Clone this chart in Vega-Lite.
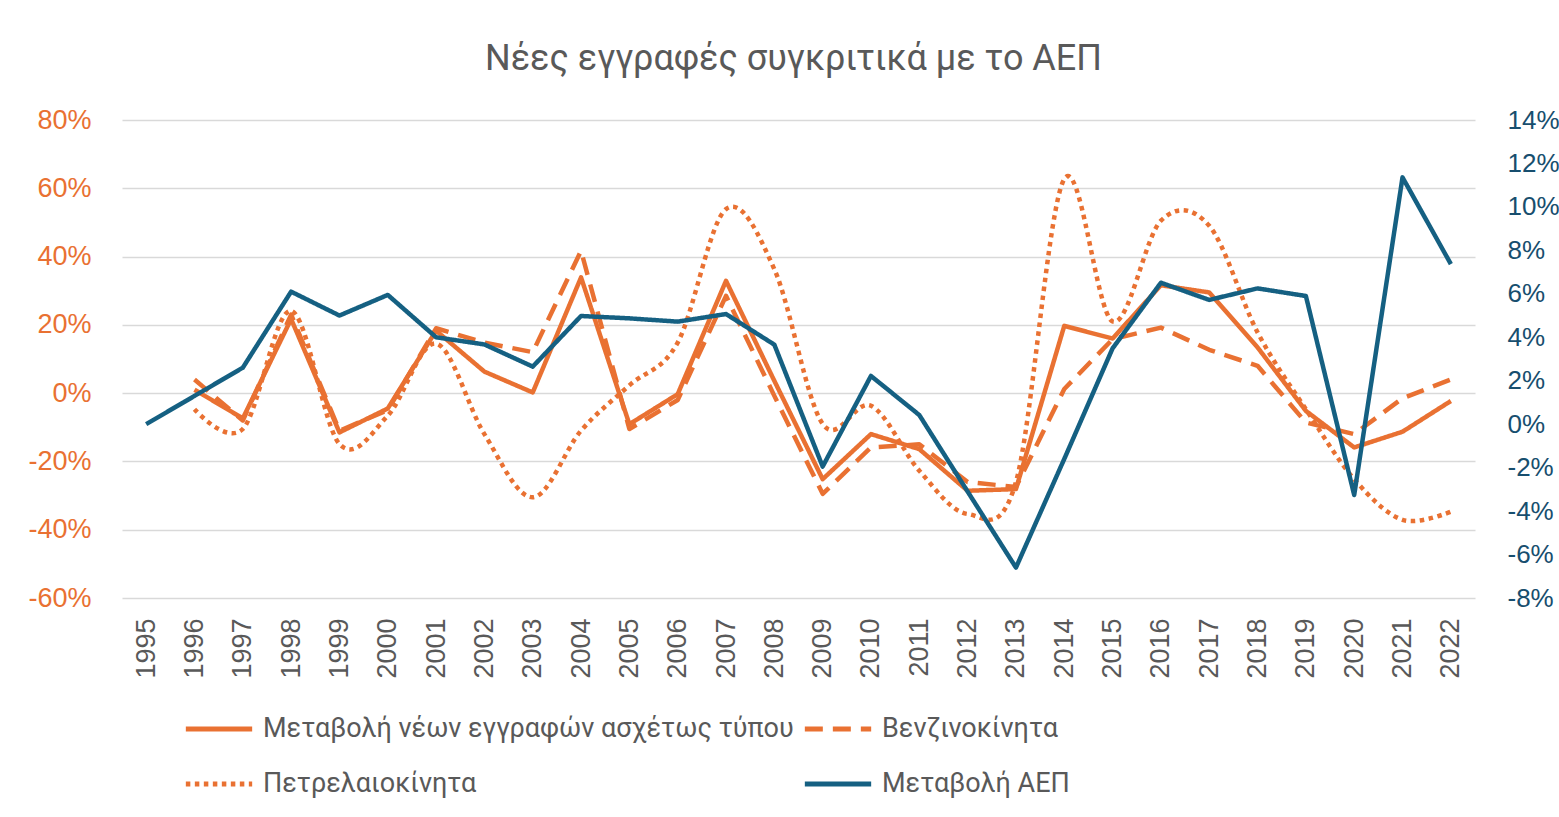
{
  "$schema": "https://vega.github.io/schema/vega-lite/v6.json",
  "autosize": {"type": "none"},
  "width": 1353,
  "height": 478,
  "padding": {"left": 122, "top": 120, "right": 84, "bottom": 219},
  "background": "white",
  "title": {
    "text": "Νέες εγγραφές συγκριτικά με το ΑΕΠ",
    "font": "Roboto",
    "fontSize": 36,
    "fontWeight": "normal",
    "color": "#595959",
    "anchor": "middle",
    "dx": -5,
    "offset": 28
  },
  "config": {
    "view": {"stroke": null},
    "legend": {
      "labelFont": "Roboto",
      "labelFontSize": 27,
      "labelColor": "#595959",
      "padding": 0
    }
  },
  "data": {
    "values": [
      {"year": "1995", "series": "Μεταβολή ΑΕΠ", "value": 0.0},
      {"year": "1996", "series": "Μεταβολή ΑΕΠ", "value": 1.3},
      {"year": "1997", "series": "Μεταβολή ΑΕΠ", "value": 2.6},
      {"year": "1998", "series": "Μεταβολή ΑΕΠ", "value": 6.1},
      {"year": "1999", "series": "Μεταβολή ΑΕΠ", "value": 5.0},
      {"year": "2000", "series": "Μεταβολή ΑΕΠ", "value": 5.95},
      {"year": "2001", "series": "Μεταβολή ΑΕΠ", "value": 4.0},
      {"year": "2002", "series": "Μεταβολή ΑΕΠ", "value": 3.67},
      {"year": "2003", "series": "Μεταβολή ΑΕΠ", "value": 2.65},
      {"year": "2004", "series": "Μεταβολή ΑΕΠ", "value": 4.98},
      {"year": "2005", "series": "Μεταβολή ΑΕΠ", "value": 4.87},
      {"year": "2006", "series": "Μεταβολή ΑΕΠ", "value": 4.72},
      {"year": "2007", "series": "Μεταβολή ΑΕΠ", "value": 5.07},
      {"year": "2008", "series": "Μεταβολή ΑΕΠ", "value": 3.66},
      {"year": "2009", "series": "Μεταβολή ΑΕΠ", "value": -1.95},
      {"year": "2010", "series": "Μεταβολή ΑΕΠ", "value": 2.22},
      {"year": "2011", "series": "Μεταβολή ΑΕΠ", "value": 0.42},
      {"year": "2012", "series": "Μεταβολή ΑΕΠ", "value": -3.1},
      {"year": "2013", "series": "Μεταβολή ΑΕΠ", "value": -6.6},
      {"year": "2014", "series": "Μεταβολή ΑΕΠ", "value": -1.6},
      {"year": "2015", "series": "Μεταβολή ΑΕΠ", "value": 3.49},
      {"year": "2016", "series": "Μεταβολή ΑΕΠ", "value": 6.51},
      {"year": "2017", "series": "Μεταβολή ΑΕΠ", "value": 5.72},
      {"year": "2018", "series": "Μεταβολή ΑΕΠ", "value": 6.25},
      {"year": "2019", "series": "Μεταβολή ΑΕΠ", "value": 5.9},
      {"year": "2020", "series": "Μεταβολή ΑΕΠ", "value": -3.26},
      {"year": "2021", "series": "Μεταβολή ΑΕΠ", "value": 11.36},
      {"year": "2022", "series": "Μεταβολή ΑΕΠ", "value": 7.37},

      {"year": "1996", "series": "Μεταβολή νέων εγγραφών ασχέτως τύπου", "value": 1.0},
      {"year": "1997", "series": "Μεταβολή νέων εγγραφών ασχέτως τύπου", "value": -7.4},
      {"year": "1998", "series": "Μεταβολή νέων εγγραφών ασχέτως τύπου", "value": 21.7},
      {"year": "1999", "series": "Μεταβολή νέων εγγραφών ασχέτως τύπου", "value": -11.5},
      {"year": "2000", "series": "Μεταβολή νέων εγγραφών ασχέτως τύπου", "value": -4.5},
      {"year": "2001", "series": "Μεταβολή νέων εγγραφών ασχέτως τύπου", "value": 18.3},
      {"year": "2002", "series": "Μεταβολή νέων εγγραφών ασχέτως τύπου", "value": 6.3},
      {"year": "2003", "series": "Μεταβολή νέων εγγραφών ασχέτως τύπου", "value": 0.2},
      {"year": "2004", "series": "Μεταβολή νέων εγγραφών ασχέτως τύπου", "value": 33.9},
      {"year": "2005", "series": "Μεταβολή νέων εγγραφών ασχέτως τύπου", "value": -9.1},
      {"year": "2006", "series": "Μεταβολή νέων εγγραφών ασχέτως τύπου", "value": -0.3},
      {"year": "2007", "series": "Μεταβολή νέων εγγραφών ασχέτως τύπου", "value": 32.9},
      {"year": "2008", "series": "Μεταβολή νέων εγγραφών ασχέτως τύπου", "value": 3.6},
      {"year": "2009", "series": "Μεταβολή νέων εγγραφών ασχέτως τύπου", "value": -25.2},
      {"year": "2010", "series": "Μεταβολή νέων εγγραφών ασχέτως τύπου", "value": -12.0},
      {"year": "2011", "series": "Μεταβολή νέων εγγραφών ασχέτως τύπου", "value": -16.4},
      {"year": "2012", "series": "Μεταβολή νέων εγγραφών ασχέτως τύπου", "value": -28.6},
      {"year": "2013", "series": "Μεταβολή νέων εγγραφών ασχέτως τύπου", "value": -28.1},
      {"year": "2014", "series": "Μεταβολή νέων εγγραφών ασχέτως τύπου", "value": 19.7},
      {"year": "2015", "series": "Μεταβολή νέων εγγραφών ασχέτως τύπου", "value": 16.0},
      {"year": "2016", "series": "Μεταβολή νέων εγγραφών ασχέτως τύπου", "value": 31.6},
      {"year": "2017", "series": "Μεταβολή νέων εγγραφών ασχέτως τύπου", "value": 29.5},
      {"year": "2018", "series": "Μεταβολή νέων εγγραφών ασχέτως τύπου", "value": 13.4},
      {"year": "2019", "series": "Μεταβολή νέων εγγραφών ασχέτως τύπου", "value": -5.2},
      {"year": "2020", "series": "Μεταβολή νέων εγγραφών ασχέτως τύπου", "value": -15.9},
      {"year": "2021", "series": "Μεταβολή νέων εγγραφών ασχέτως τύπου", "value": -11.3},
      {"year": "2022", "series": "Μεταβολή νέων εγγραφών ασχέτως τύπου", "value": -2.3},

      {"year": "1996", "series": "Βενζινοκίνητα", "value": 4.0},
      {"year": "1997", "series": "Βενζινοκίνητα", "value": -8.0},
      {"year": "1998", "series": "Βενζινοκίνητα", "value": 23.0},
      {"year": "1999", "series": "Βενζινοκίνητα", "value": -11.0},
      {"year": "2000", "series": "Βενζινοκίνητα", "value": -5.0},
      {"year": "2001", "series": "Βενζινοκίνητα", "value": 19.0},
      {"year": "2002", "series": "Βενζινοκίνητα", "value": 14.8},
      {"year": "2003", "series": "Βενζινοκίνητα", "value": 12.0},
      {"year": "2004", "series": "Βενζινοκίνητα", "value": 41.7},
      {"year": "2005", "series": "Βενζινοκίνητα", "value": -10.5},
      {"year": "2006", "series": "Βενζινοκίνητα", "value": -2.0},
      {"year": "2007", "series": "Βενζινοκίνητα", "value": 28.5},
      {"year": "2008", "series": "Βενζινοκίνητα", "value": -0.8},
      {"year": "2009", "series": "Βενζινοκίνητα", "value": -29.5},
      {"year": "2010", "series": "Βενζινοκίνητα", "value": -15.9},
      {"year": "2011", "series": "Βενζινοκίνητα", "value": -15.0},
      {"year": "2012", "series": "Βενζινοκίνητα", "value": -26.0},
      {"year": "2013", "series": "Βενζινοκίνητα", "value": -27.5},
      {"year": "2014", "series": "Βενζινοκίνητα", "value": 1.2},
      {"year": "2015", "series": "Βενζινοκίνητα", "value": 15.8},
      {"year": "2016", "series": "Βενζινοκίνητα", "value": 19.2},
      {"year": "2017", "series": "Βενζινοκίνητα", "value": 12.7},
      {"year": "2018", "series": "Βενζινοκίνητα", "value": 8.0},
      {"year": "2019", "series": "Βενζινοκίνητα", "value": -8.6},
      {"year": "2020", "series": "Βενζινοκίνητα", "value": -12.0},
      {"year": "2021", "series": "Βενζινοκίνητα", "value": -1.5},
      {"year": "2022", "series": "Βενζινοκίνητα", "value": 4.0},

      {"year": "1996", "series": "Πετρελαιοκίνητα", "value": -4.7},
      {"year": "1997", "series": "Πετρελαιοκίνητα", "value": -10.5},
      {"year": "1998", "series": "Πετρελαιοκίνητα", "value": 24.1},
      {"year": "1999", "series": "Πετρελαιοκίνητα", "value": -14.9},
      {"year": "2000", "series": "Πετρελαιοκίνητα", "value": -6.6},
      {"year": "2001", "series": "Πετρελαιοκίνητα", "value": 14.5},
      {"year": "2002", "series": "Πετρελαιοκίνητα", "value": -12.0},
      {"year": "2003", "series": "Πετρελαιοκίνητα", "value": -30.5},
      {"year": "2004", "series": "Πετρελαιοκίνητα", "value": -11.0},
      {"year": "2005", "series": "Πετρελαιοκίνητα", "value": 2.3},
      {"year": "2006", "series": "Πετρελαιοκίνητα", "value": 14.8},
      {"year": "2007", "series": "Πετρελαιοκίνητα", "value": 53.9},
      {"year": "2008", "series": "Πετρελαιοκίνητα", "value": 36.3},
      {"year": "2009", "series": "Πετρελαιοκίνητα", "value": -9.0},
      {"year": "2010", "series": "Πετρελαιοκίνητα", "value": -3.7},
      {"year": "2011", "series": "Πετρελαιοκίνητα", "value": -22.7},
      {"year": "2012", "series": "Πετρελαιοκίνητα", "value": -35.4},
      {"year": "2013", "series": "Πετρελαιοκίνητα", "value": -26.0},
      {"year": "2014", "series": "Πετρελαιοκίνητα", "value": 62.7},
      {"year": "2015", "series": "Πετρελαιοκίνητα", "value": 21.0},
      {"year": "2016", "series": "Πετρελαιοκίνητα", "value": 50.5},
      {"year": "2017", "series": "Πετρελαιοκίνητα", "value": 49.0},
      {"year": "2018", "series": "Πετρελαιοκίνητα", "value": 17.8},
      {"year": "2019", "series": "Πετρελαιοκίνητα", "value": -4.7},
      {"year": "2020", "series": "Πετρελαιοκίνητα", "value": -25.2},
      {"year": "2021", "series": "Πετρελαιοκίνητα", "value": -37.1},
      {"year": "2022", "series": "Πετρελαιοκίνητα", "value": -34.7}
    ]
  },
  "encoding": {
    "x": {
      "field": "year",
      "type": "ordinal",
      "scale": {"type": "point", "padding": 0.5},
      "axis": {
        "title": null,
        "labelAngle": 270,
        "labelFont": "Liberation Sans",
        "labelFontSize": 27,
        "labelColor": "#595959",
        "labelPadding": 20,
        "ticks": false,
        "domain": false,
        "grid": false
      }
    },
    "color": {
      "field": "series",
      "type": "nominal",
      "scale": {
        "domain": ["Μεταβολή νέων εγγραφών ασχέτως τύπου", "Βενζινοκίνητα", "Πετρελαιοκίνητα", "Μεταβολή ΑΕΠ"],
        "range": ["#E97132", "#E97132", "#E97132", "#156082"]
      },
      "legend": {
        "title": null,
        "orient": "none",
        "direction": "horizontal",
        "columns": 2,
        "columnPadding": 0,
        "rowPadding": 6,
        "legendX": 61,
        "legendY": 573,
        "symbolType": "stroke",
        "symbolSize": 4400,
        "symbolStrokeWidth": 5,
        "labelOffset": 8,
        "labelLimit": 800
      }
    },
    "strokeDash": {
      "field": "series",
      "type": "nominal",
      "scale": {
        "domain": ["Μεταβολή νέων εγγραφών ασχέτως τύπου", "Βενζινοκίνητα", "Πετρελαιοκίνητα", "Μεταβολή ΑΕΠ"],
        "range": [[1, 0], [18, 10], [4.5, 4.5], [1, 0]]
      },
      "legend": null
    }
  },
  "layer": [
    {
      "layer": [
        {
          "transform": [{"filter": "datum.series === 'Μεταβολή νέων εγγραφών ασχέτως τύπου' || datum.series === 'Βενζινοκίνητα'"}],
          "mark": {"type": "line", "strokeWidth": 4.5, "strokeJoin": "round"},
          "encoding": {
            "y": {
              "field": "value",
              "type": "quantitative",
              "scale": {"domain": [-60, 80], "nice": false, "zero": false},
              "axis": {
                "orient": "left",
                "title": null,
                "values": [-60, -40, -20, 0, 20, 40, 60, 80],
                "labelExpr": "datum.value + '%'",
                "labelFont": "Liberation Sans",
                "labelFontSize": 27,
                "labelColor": "#E97132",
                "labelPadding": 31,
                "ticks": false,
                "domain": false,
                "grid": true,
                "gridColor": "#D9D9D9",
                "gridWidth": 1.5
              }
            }
          }
        },
        {
          "transform": [{"filter": "datum.series === 'Πετρελαιοκίνητα'"}],
          "mark": {"type": "line", "strokeWidth": 4.5, "interpolate": "cardinal"},
          "encoding": {
            "y": {"field": "value", "type": "quantitative"}
          }
        }
      ]
    },
    {
      "transform": [{"filter": "datum.series === 'Μεταβολή ΑΕΠ'"}],
      "mark": {"type": "line", "strokeWidth": 4.5, "strokeJoin": "round"},
      "encoding": {
        "y": {
          "field": "value",
          "type": "quantitative",
          "scale": {"domain": [-8, 14], "nice": false, "zero": false},
          "axis": {
            "orient": "right",
            "title": null,
            "values": [-8, -6, -4, -2, 0, 2, 4, 6, 8, 10, 12, 14],
            "labelExpr": "datum.value + '%'",
            "labelFont": "Liberation Sans",
            "labelFontSize": 26,
            "labelColor": "#174E6E",
            "labelPadding": 32,
            "ticks": false,
            "domain": false,
            "grid": false
          }
        }
      }
    }
  ],
  "resolve": {"scale": {"y": "independent"}}
}
